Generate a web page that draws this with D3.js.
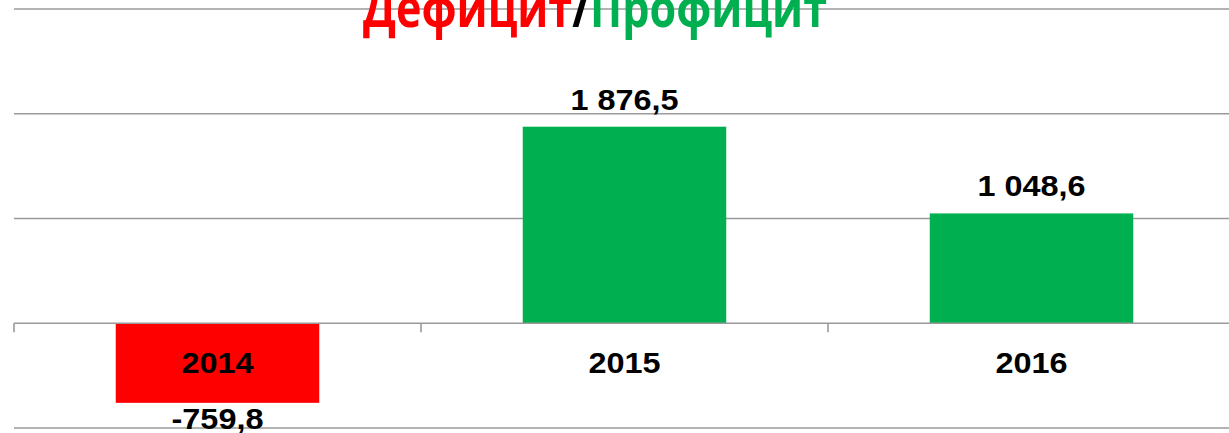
<!DOCTYPE html>
<html lang="ru">
<head>
<meta charset="UTF-8">
<title>Дефицит/Профицит</title>
<script src="https://cdn.jsdelivr.net/npm/d3@7"></script>
<style>
	html, body { margin: 0; padding: 0; background: #fff; overflow: hidden; }
	svg { display: block; }
</style>
</head>
<body>
<div id="chart"></div>
<script>
	// data
	const years = ["2014", "2015", "2016"];
	const balance = [-759.8, 1876.5, 1048.6];
	const gridValues = [-1000, 1000, 2000, 3000];

	const width = 1229, height = 433;
	const plot = { left: 14, right: 1235, top: 9, bottom: 428 };
	const red = "#ff0000", green = "#00b050", gray = "#9a9a9a";
	const labelFont = "bold 30px 'Liberation Sans', Arial, sans-serif";
	const stretch = 1.08;

	const svg = d3.select("#chart").append("svg")
		.attr("width", width)
		.attr("height", height);

	const x = d3.scaleBand().domain(years).range([plot.left, plot.right]);
	const y = d3.scaleLinear().domain([-1000, 3000]).range([plot.bottom, plot.top]);

	const fmt = v => {
		const s = d3.format(",.1f")(v);
		return s.replace(/,/g, " ").replace(".", ",").replace("−", "-");
	};

	// gridlines
	svg.append("g").selectAll("line")
		.data(gridValues)
		.enter().append("line")
		.attr("x1", plot.left).attr("x2", plot.right)
		.attr("y1", d => y(d)).attr("y2", d => y(d))
		.attr("stroke", gray).attr("stroke-width", 1.6);

	// bars
	const bw = x.bandwidth() * 0.5;
	svg.append("g").selectAll("rect")
		.data(balance)
		.enter().append("rect")
		.attr("x", (d, i) => x(years[i]) + (x.bandwidth() - bw) / 2)
		.attr("width", bw)
		.attr("y", d => y(Math.max(0, d)))
		.attr("height", d => Math.abs(y(d) - y(0)))
		.attr("fill", d => d < 0 ? red : green);

	// zero axis with category tick marks
	svg.append("line")
		.attr("x1", plot.left).attr("x2", plot.right)
		.attr("y1", y(0)).attr("y2", y(0))
		.attr("stroke", gray).attr("stroke-width", 1.6);
	svg.append("g").selectAll("line")
		.data(years.concat(["end"]))
		.enter().append("line")
		.attr("x1", (d, i) => plot.left + i * x.step())
		.attr("x2", (d, i) => plot.left + i * x.step())
		.attr("y1", y(0)).attr("y2", y(0) + 9)
		.attr("stroke", gray).attr("stroke-width", 1.6);

	// category labels
	svg.append("g").selectAll("text")
		.data(years)
		.enter().append("text")
		.attr("transform", d => `translate(${x(d) + x.bandwidth() / 2},${y(0) + 50}) scale(${stretch},1)`)
		.attr("text-anchor", "middle")
		.style("font", labelFont)
		.text(d => d);

	// value labels
	svg.append("g").selectAll("text")
		.data(balance)
		.enter().append("text")
		.attr("transform", (d, i) => `translate(${x(years[i]) + x.bandwidth() / 2},${d < 0 ? y(d) + 26 : y(d) - 17}) scale(${stretch},1)`)
		.attr("text-anchor", "middle")
		.style("font", labelFont)
		.text(d => fmt(d));

	// title (clipped at the top like the original)
	const title = svg.append("text")
		.attr("x", 363)
		.attr("y", 27)
		.attr("textLength", 464)
		.attr("lengthAdjust", "spacingAndGlyphs")
		.style("font", "bold 54px 'Open Sans', sans-serif");
	title.append("tspan").attr("fill", red).text("Дефицит");
	title.append("tspan").attr("fill", "#000").text("/");
	title.append("tspan").attr("fill", green).text("Профицит");
</script>
</body>
</html>
